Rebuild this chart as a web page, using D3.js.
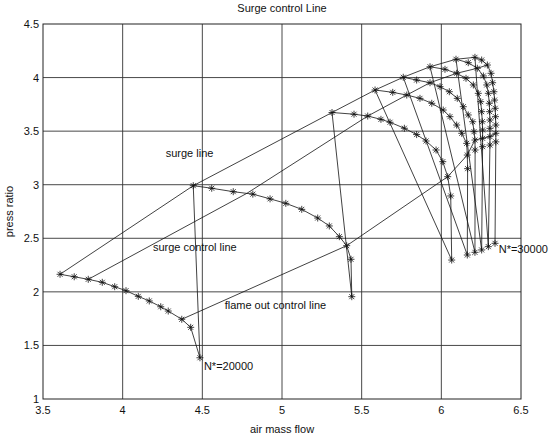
<!DOCTYPE html>
<html>
<head>
<meta charset="utf-8">
<script src="https://cdn.jsdelivr.net/npm/d3@7"></script>
<style>
  body { margin: 0; background: #fff; }
  text { font-family: "Liberation Sans", Arial, sans-serif; fill: #111; }
</style>
</head>
<body>
<svg id="chart" width="558" height="436"></svg>
<script>
// speed lines, surge point first, choke point last (N*=20000 ... N*=30000)
var speedFlow = [
  [3.607, 3.696, 3.784, 3.872, 3.950, 4.021, 4.098, 4.167, 4.239, 4.286, 4.371, 4.427, 4.485],
  [4.443, 4.559, 4.694, 4.817, 4.925, 5.024, 5.124, 5.224, 5.297, 5.360, 5.406, 5.433, 5.438],
  [5.314, 5.452, 5.538, 5.621, 5.678, 5.768, 5.845, 5.904, 5.967, 6.009, 6.040, 6.059, 6.065],
  [5.584, 5.695, 5.783, 5.866, 5.940, 6.012, 6.054, 6.096, 6.128, 6.159, 6.163, 6.165, 6.163],
  [5.761, 5.845, 5.929, 5.992, 6.050, 6.100, 6.138, 6.169, 6.197, 6.205, 6.211, 6.212, 6.211],
  [5.929, 6.023, 6.096, 6.155, 6.201, 6.232, 6.247, 6.253, 6.257, 6.259, 6.259, 6.259, 6.253],
  [6.092, 6.169, 6.226, 6.264, 6.285, 6.295, 6.301, 6.303, 6.305, 6.305, 6.305, 6.305, 6.295],
  [6.211, 6.253, 6.289, 6.312, 6.322, 6.330, 6.334, 6.338, 6.340, 6.342, 6.342, 6.342, 6.337]
];
var speedRatio = [
  [2.164, 2.141, 2.117, 2.089, 2.048, 2.011, 1.958, 1.915, 1.861, 1.821, 1.744, 1.669, 1.385],
  [2.991, 2.967, 2.935, 2.912, 2.868, 2.826, 2.770, 2.689, 2.615, 2.515, 2.431, 2.304, 1.955],
  [3.674, 3.658, 3.641, 3.610, 3.583, 3.527, 3.468, 3.408, 3.324, 3.215, 3.075, 2.895, 2.297],
  [3.884, 3.862, 3.837, 3.806, 3.760, 3.697, 3.635, 3.557, 3.480, 3.386, 3.277, 3.150, 2.344],
  [4.003, 3.977, 3.952, 3.915, 3.868, 3.806, 3.728, 3.651, 3.588, 3.495, 3.417, 3.324, 2.369],
  [4.101, 4.077, 4.040, 3.993, 3.931, 3.853, 3.775, 3.682, 3.588, 3.511, 3.433, 3.355, 2.391],
  [4.171, 4.139, 4.087, 4.015, 3.931, 3.853, 3.760, 3.682, 3.604, 3.526, 3.449, 3.370, 2.422],
  [4.189, 4.164, 4.117, 4.040, 3.952, 3.868, 3.790, 3.713, 3.635, 3.557, 3.480, 3.400, 2.453]
];
var controlFlow = [3.784, 4.780, 5.538, 5.783, 5.929, 6.096, 6.226, 6.289];
var controlRatio = [2.117, 2.920, 3.641, 3.837, 3.952, 4.040, 4.087, 4.117];
var flameFlow = [4.371, 5.406, 6.040, 6.163, 6.211, 6.259, 6.305, 6.342];
var flameRatio = [1.744, 2.431, 3.075, 3.277, 3.417, 3.433, 3.449, 3.480];
var xTicks = [3.5, 4, 4.5, 5, 5.5, 6, 6.5];
var yTicks = [1, 1.5, 2, 2.5, 3, 3.5, 4, 4.5];
var notes = [
  { text: "surge line", x: 4.27, y: 3.30 },
  { text: "surge control line", x: 4.19, y: 2.42 },
  { text: "flame out control line", x: 4.64, y: 1.88 },
  { text: "N*=20000", x: 4.51, y: 1.31 },
  { text: "N*=30000", x: 6.36, y: 2.40 }
];

var svg = d3.select("#chart"),
    margin = { top: 24, left: 43, bottom: 37, right: 37 },
    width = +svg.attr("width"),
    height = +svg.attr("height");

var x = d3.scaleLinear().domain([3.5, 6.5]).range([margin.left, width - margin.right]);
var y = d3.scaleLinear().domain([1, 4.5]).range([height - margin.bottom, margin.top]);

// grid
svg.append("g").selectAll("line.v")
    .data(xTicks.slice(1, -1))
    .enter().append("line")
    .attr("x1", d => x(d)).attr("x2", d => x(d))
    .attr("y1", y(1)).attr("y2", y(4.5))
    .attr("stroke", "#333").attr("stroke-width", 0.9)
svg.append("g").selectAll("line.h")
    .data(yTicks.slice(1, -1))
    .enter().append("line")
    .attr("x1", x(3.5)).attr("x2", x(6.5))
    .attr("y1", d => y(d)).attr("y2", d => y(d))
    .attr("stroke", "#333").attr("stroke-width", 0.9)

svg.append("rect")
    .attr("x", x(3.5)).attr("y", y(4.5))
    .attr("width", x(6.5) - x(3.5)).attr("height", y(1) - y(4.5))
    .attr("fill", "none").attr("stroke", "#222").attr("stroke-width", 1)

// tick labels
svg.append("g").selectAll("text")
    .data(xTicks)
    .enter().append("text")
    .attr("x", d => x(d)).attr("y", y(1) + 15)
    .attr("text-anchor", "middle")
    .style("font-size", "11px")
    .text(d => d)
svg.append("g").selectAll("text")
    .data(yTicks)
    .enter().append("text")
    .attr("x", x(3.5) - 4).attr("y", d => y(d) + 4)
    .attr("text-anchor", "end")
    .style("font-size", "11px")
    .text(d => d)

svg.append("text")
    .attr("x", (x(3.5) + x(6.5)) / 2).attr("y", 12)
    .attr("text-anchor", "middle").style("font-size", "11px")
    .text("Surge control Line")
svg.append("text")
    .attr("x", (x(3.5) + x(6.5)) / 2).attr("y", height - 3)
    .attr("text-anchor", "middle").style("font-size", "11px")
    .text("air mass flow")
svg.append("text")
    .attr("transform", `translate(13,${(y(1) + y(4.5)) / 2}) rotate(-90)`)
    .attr("text-anchor", "middle").style("font-size", "11px")
    .text("press ratio")

var line = d3.line().x(d => x(d[0])).y(d => y(d[1]));

// all speed lines drawn as one trace, so each choke point joins the next surge point
var trace = [];
speedFlow.forEach((f, i) => f.forEach((v, j) => trace.push([v, speedRatio[i][j]])));

svg.append("path")
    .attr("d", line(trace))
    .attr("fill", "none").attr("stroke", "#111").attr("stroke-width", 0.8)

svg.append("path")
    .attr("d", line(speedFlow.map((f, i) => [f[0], speedRatio[i][0]])))
    .attr("fill", "none").attr("stroke", "#111").attr("stroke-width", 0.8)
svg.append("path")
    .attr("d", line(controlFlow.map((v, i) => [v, controlRatio[i]])))
    .attr("fill", "none").attr("stroke", "#111").attr("stroke-width", 0.8)
svg.append("path")
    .attr("d", line(flameFlow.map((v, i) => [v, flameRatio[i]])))
    .attr("fill", "none").attr("stroke", "#111").attr("stroke-width", 0.8)

// asterisk markers
var r = 3.5, q = 2.5;
var star = `M${-r},0L${r},0M0,${-r}L0,${r}M${-q},${-q}L${q},${q}M${-q},${q}L${q},${-q}`;
svg.append("g").selectAll("path")
    .data(trace)
    .enter().append("path")
    .attr("transform", d => `translate(${x(d[0])},${y(d[1])})`)
    .attr("d", star)
    .attr("fill", "none").attr("stroke", "#111").attr("stroke-width", 0.8)

svg.append("g").selectAll("text")
    .data(notes)
    .enter().append("text")
    .attr("x", d => x(d.x)).attr("y", d => y(d.y) + 4)
    .style("font-size", "11px")
    .text(d => d.text)
</script>
</body>
</html>
